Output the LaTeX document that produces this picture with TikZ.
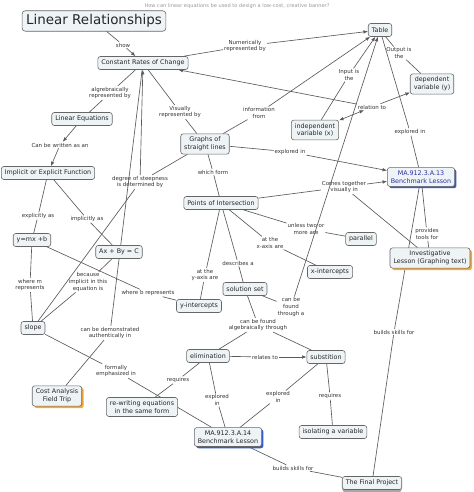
\documentclass[tikz,border=0pt]{standalone}
\usepackage{fontspec}
\setmainfont{DejaVu Sans}
\usepackage{xcolor}
\usetikzlibrary{arrows.meta,backgrounds,shadows}

\definecolor{cfill}{HTML}{EEF3F6}
\definecolor{cline}{HTML}{5A5A5A}
\definecolor{shblue}{HTML}{3A5BC7}
\definecolor{shorange}{HTML}{F2A93B}
\definecolor{shgray}{HTML}{A8A8A8}
\definecolor{linkblue}{HTML}{2B2FA0}

\newcommand{\cfont}{\fontsize{6.4}{7.7}\selectfont}
\newcommand{\lfont}{\fontsize{5.5}{6.7}\selectfont}

\tikzset{
  % --- concepts -------------------------------------------------------------
  concept/.style={rectangle,rounded corners=2.5bp,draw=black!60,fill=cfill,
                  line width=0.6bp,inner xsep=3.5bp,inner ysep=3.2bp,
                  minimum height=13bp,font=\cfont,align=center,text=black!85},
  titlebox/.style={concept,font=\fontsize{13.5}{15}\selectfont,
                   inner xsep=4bp,inner ysep=3.7bp,rounded corners=3bp},
  shadblue/.style={concept,drop shadow={shadow xshift=1.8bp,shadow yshift=-1.8bp,
                   fill=shblue,opacity=1}},
  shadorange/.style={concept,drop shadow={shadow xshift=2bp,shadow yshift=-2bp,
                     fill=shorange,opacity=1}},
  shadgray/.style={concept,drop shadow={shadow xshift=0bp,shadow yshift=-2.5bp,
                   fill=shgray,opacity=1}},
  % --- linking phrases ------------------------------------------------------
  link/.style={inner sep=0.9bp,font=\lfont,align=center,text=black!80},
  question/.style={inner sep=0pt,font=\fontsize{5.1}{6}\selectfont,text=black!40},
  % --- connectors -----------------------------------------------------------
  conn/.style={draw=cline,line width=0.65bp},
  arr/.style={conn,-{Latex[length=4.5bp,width=3.6bp]}},
  darr/.style={conn,{Latex[length=4.5bp,width=3.6bp]}-{Latex[length=4.5bp,width=3.6bp]}},
}

\begin{document}
\begin{tikzpicture}[x=1bp,y=-1bp]
  \useasboundingbox (0,0) rectangle (474,492);

  % ---- the focus question ----
  \node[question] (q) at (237,6)
    {How can linear equations be used to design a low-cost, creative banner?};

  % ---- concepts, top to bottom ----
  \node[titlebox]   (lr)   at (94,21)   {Linear Relationships};
  \node[concept]    (crc)  at (143,63)  {Constant Rates of Change};
  \node[concept]    (tab)  at (380,30)  {Table};
  \node[concept]    (dep)  at (432,84)  {dependent\\variable (y)};
  \node[concept]    (leq)  at (82,119)  {Linear Equations};
  \node[concept]    (ind)  at (315,130) {independent\\variable (x)};
  \node[concept]    (gsl)  at (205,144) {Graphs of\\straight lines};
  \node[concept]    (ief)  at (48,173)  {Implicit or Explicit Function};
  \node[shadblue,text=linkblue] (ma13) at (421,177) {MA.912.3.A.13\\Benchmark Lesson};
  \node[concept]    (poi)  at (221,203) {Points of Intersection};
  \node[concept]    (ymx)  at (32,240)  {y=mx +b};
  \node[concept]    (abc)  at (119,252) {Ax + By = C};
  \node[concept]    (par)  at (361,239) {parallel};
  \node[shadorange] (inv)  at (430,258) {Investigative\\Lesson (Graphing text)};
  \node[concept]    (xint) at (330,272) {x-intercepts};
  \node[concept]    (sol)  at (245,289) {solution set};
  \node[concept]    (yint) at (199,306) {y-intercepts};
  \node[concept]    (slp)  at (33,328)  {slope};
  \node[concept]    (elim) at (208,356) {elimination};
  \node[concept]    (sub)  at (326,357) {substition};
  \node[shadorange] (cost) at (57,396)  {Cost Analysis\\Field Trip};
  \node[concept]    (rew)  at (142,407) {re-writing equations\\in the same form};
  \node[concept]    (iso)  at (333,432) {isolating a variable};
  \node[shadblue]   (ma14) at (228,437) {MA.912.3.A.14\\Benchmark Lesson};
  \node[shadgray]   (fin)  at (372,483) {The Final Project};

  % ---- linking phrases ----
  \node[link] (lShow)    at (123,45)  {show};
  \node[link] (lNum)     at (245,46)  {Numerically\\represented by};
  \node[link] (lAlg)     at (110,93)  {algrebraically\\represented by};
  \node[link] (lVis)     at (180,112) {Visually\\represented by};
  \node[link] (lWrit)    at (60,145)  {Can be written as an};
  \node[link] (lExpl)    at (38,216)  {explicitly as};
  \node[link] (lImpl)    at (87,219)  {implicitly as};
  \node[link] (lDeg)     at (140,182) {degree of steepness\\is determined by};
  \node[link] (lInfo)    at (259,113) {information\\from};
  \node[link] (lInput)   at (349,75)  {Input is\\the};
  \node[link] (lOutput)  at (399,53)  {Output is\\the};
  \node[link] (lRel)     at (372,107) {relation to};
  \node[link] (lExpG)    at (290,152) {explored in};
  \node[link] (lExpT)    at (410,132) {explored in};
  \node[link] (lForm)    at (213,172) {which form};
  \node[link] (lComes)   at (344,187) {Comes together\\visually in};
  \node[link] (lUnless)  at (306,229) {unless two or\\more are};
  \node[link] (lTools)   at (427,234) {provides\\tools for};
  \node[link] (lXax)     at (270,243) {at the\\x-axis are};
  \node[link] (lDesc)    at (238,263) {describes a};
  \node[link] (lYax)     at (205,275) {at the\\y-axis are};
  \node[link] (lBecause) at (88,282)  {because\\implicit in this\\equation is};
  \node[link] (lWm)      at (30,285)  {where m\\represents};
  \node[link] (lWb)      at (148,293) {where b represents};
  \node[link] (lThrough) at (291,307) {can be\\found\\through a};
  \node[link] (lAlgT)    at (258,325) {can be found\\algebraically through};
  \node[link] (lBuildM)  at (394,332) {builds skills for};
  \node[link] (lDemo)    at (110,333) {can be demonstrated\\authentically in};
  \node[link] (lRelates) at (265,357) {relates to};
  \node[link] (lFormal)  at (116,371) {formally\\emphasized in};
  \node[link] (lReqE)    at (178,380) {requires};
  \node[link] (lReqS)    at (330,396) {requires};
  \node[link] (lExpS)    at (278,397) {explored\\in};
  \node[link] (lExpE)    at (217,400) {explored\\in};
  \node[link] (lBuild)   at (293,468) {builds skills for};

  % ---- connectors, kept under the boxes ----
  \begin{scope}[on background layer]
    \draw[conn] (lr) -- (lShow);
    \draw[arr]  (lShow) -- (crc);
    \draw[conn] (crc) -- (lNum);
    \draw[arr]  (lNum) -- (tab);
    \draw[conn] (crc) -- (lAlg);
    \draw[conn] (lAlg) -- (leq);
    \draw[conn] (crc) -- (lVis);
    \draw[conn] (lVis) -- (gsl);
    \draw[arr]  (leq) -- (lWrit);
    \draw[arr]  (lWrit) -- (ief);
    \draw[conn] (ief) -- (lExpl);
    \draw[conn] (lExpl) -- (ymx);
    \draw[conn] (ief) -- (lImpl);
    \draw[conn] (lImpl) -- (abc);
    \draw[conn] (gsl) -- (lDeg);
    \draw[conn] (slp) -- (lDeg);
    \draw[arr]  (lDeg) -- (crc);
    \draw[conn] (crc) -- (lDemo);
    \draw[conn] (lDemo) -- (cost);
    \draw[conn] (gsl) -- (lInfo);
    \draw[arr]  (lInfo) -- (tab);
    \draw[conn] (ind) -- (lInput);
    \draw[arr]  (lInput) -- (tab);
    \draw[conn] (tab) -- (lOutput);
    \draw[conn] (lOutput) -- (dep);
    \draw[arr]  (lRel) -- (crc);
    \draw[darr] (lRel) -- (ind);
    \draw[arr]  (lRel) -- (dep);
    \draw[conn] (gsl) -- (lExpG);
    \draw[arr]  (lExpG) -- (ma13);
    \draw[conn] (tab) -- (lExpT);
    \draw[conn] (lExpT) -- (ma13);
    \draw[conn] (gsl) -- (lForm);
    \draw[conn] (lForm) -- (poi);
    \draw[conn] (poi) -- (lComes);
    \draw[arr]  (lComes) -- (ma13);
    \draw[conn] (lComes) -- (inv);
    \draw[conn] (ma13) -- (lTools);
    \draw[conn] (lTools) -- (inv);
    \draw[conn] (ma13) -- (lBuildM);
    \draw[conn] (lBuildM) -- (fin);
    \draw[conn] (poi) -- (lUnless);
    \draw[conn] (lUnless) -- (par);
    \draw[conn] (poi) -- (lXax);
    \draw[conn] (lXax) -- (xint);
    \draw[conn] (poi) -- (lYax);
    \draw[conn] (lYax) -- (yint);
    \draw[conn] (poi) -- (lDesc);
    \draw[conn] (lDesc) -- (sol);
    \draw[conn] (sol) -- (lThrough);
    \draw[arr]  (lThrough) -- (tab);
    \draw[conn] (sol) -- (lAlgT);
    \draw[conn] (lAlgT) -- (elim);
    \draw[conn] (lAlgT) -- (sub);
    \draw[conn] (abc) -- (lBecause);
    \draw[conn] (lBecause) -- (slp);
    \draw[conn] (ymx) -- (lWm);
    \draw[conn] (lWm) -- (slp);
    \draw[conn] (ymx) -- (lWb);
    \draw[conn] (lWb) -- (yint);
    \draw[conn] (slp) -- (lFormal);
    \draw[conn] (lFormal) -- (ma14);
    \draw[conn] (elim) -- (lRelates);
    \draw[arr]  (lRelates) -- (sub);
    \draw[conn] (elim) -- (lReqE);
    \draw[conn] (lReqE) -- (rew);
    \draw[conn] (elim) -- (lExpE);
    \draw[conn] (lExpE) -- (ma14);
    \draw[conn] (sub) -- (lExpS);
    \draw[conn] (lExpS) -- (ma14);
    \draw[conn] (sub) -- (lReqS);
    \draw[conn] (lReqS) -- (iso);
    \draw[conn] (ma14) -- (lBuild);
    \draw[conn] (lBuild) -- (fin);
  \end{scope}
\end{tikzpicture}
\end{document}
